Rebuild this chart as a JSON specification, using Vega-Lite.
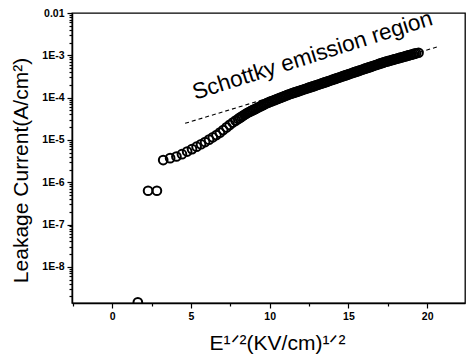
{
  "$schema": "https://vega.github.io/schema/vega-lite/v6.json",
  "autosize": "none",
  "width": 393,
  "height": 290,
  "padding": {"left": 72, "top": 13, "right": 2, "bottom": 57},
  "background": "white",
  "config": {
    "view": {"stroke": "black", "strokeWidth": 1.3},
    "axis": {"domainColor": "black", "domainWidth": 1.5, "tickColor": "black", "tickWidth": 1.2, "labelColor": "black", "titleColor": "black", "grid": false}
  },
  "datasets": {
    "points": [
      {"x": 1.63, "j": 1.45e-9},
      {"x": 2.28, "j": 6.3e-7},
      {"x": 2.84, "j": 6.3e-7},
      {"x": 3.24, "j": 3.35e-6},
      {"x": 3.68, "j": 3.71e-6},
      {"x": 4.08, "j": 4.06e-6},
      {"x": 4.43, "j": 4.61e-6},
      {"x": 4.76, "j": 5.31e-6},
      {"x": 5.07, "j": 6.07e-6},
      {"x": 5.36, "j": 6.93e-6},
      {"x": 5.64, "j": 7.91e-6},
      {"x": 5.90, "j": 8.91e-6},
      {"x": 6.15, "j": 1.016e-5},
      {"x": 6.39, "j": 1.153e-5},
      {"x": 6.62, "j": 1.303e-5},
      {"x": 6.84, "j": 1.486e-5},
      {"x": 7.05, "j": 1.714e-5},
      {"x": 7.26, "j": 1.977e-5},
      {"x": 7.46, "j": 2.265e-5},
      {"x": 7.66, "j": 2.58e-5},
      {"x": 7.84, "j": 2.86e-5},
      {"x": 8.0, "j": 3.13e-5},
      {"x": 8.1, "j": 3.32e-5},
      {"x": 8.2, "j": 3.51e-5},
      {"x": 8.3, "j": 3.72e-5},
      {"x": 8.4, "j": 3.94e-5},
      {"x": 8.5, "j": 4.16e-5},
      {"x": 8.6, "j": 4.38e-5},
      {"x": 8.7, "j": 4.57e-5},
      {"x": 8.8, "j": 4.78e-5},
      {"x": 8.9, "j": 4.99e-5},
      {"x": 9.0, "j": 5.20e-5},
      {"x": 9.1, "j": 5.43e-5},
      {"x": 9.2, "j": 5.67e-5},
      {"x": 9.3, "j": 5.92e-5},
      {"x": 9.4, "j": 6.18e-5},
      {"x": 9.5, "j": 6.46e-5},
      {"x": 9.6, "j": 6.74e-5},
      {"x": 9.7, "j": 7.04e-5},
      {"x": 9.8, "j": 7.35e-5},
      {"x": 9.9, "j": 7.62e-5},
      {"x": 10.0, "j": 7.89e-5},
      {"x": 10.1, "j": 8.16e-5},
      {"x": 10.2, "j": 8.43e-5},
      {"x": 10.3, "j": 8.73e-5},
      {"x": 10.4, "j": 9.02e-5},
      {"x": 10.5, "j": 9.33e-5},
      {"x": 10.6, "j": 9.64e-5},
      {"x": 10.7, "j": 9.98e-5},
      {"x": 10.8, "j": 1.032e-4},
      {"x": 10.9, "j": 1.067e-4},
      {"x": 11.0, "j": 1.104e-4},
      {"x": 11.1, "j": 1.141e-4},
      {"x": 11.2, "j": 1.180e-4},
      {"x": 11.3, "j": 1.219e-4},
      {"x": 11.4, "j": 1.256e-4},
      {"x": 11.5, "j": 1.292e-4},
      {"x": 11.6, "j": 1.328e-4},
      {"x": 11.7, "j": 1.367e-4},
      {"x": 11.8, "j": 1.406e-4},
      {"x": 11.9, "j": 1.448e-4},
      {"x": 12.0, "j": 1.490e-4},
      {"x": 12.1, "j": 1.532e-4},
      {"x": 12.2, "j": 1.578e-4},
      {"x": 12.3, "j": 1.622e-4},
      {"x": 12.4, "j": 1.671e-4},
      {"x": 12.5, "j": 1.718e-4},
      {"x": 12.6, "j": 1.766e-4},
      {"x": 12.7, "j": 1.820e-4},
      {"x": 12.8, "j": 1.871e-4},
      {"x": 12.9, "j": 1.928e-4},
      {"x": 13.0, "j": 1.982e-4},
      {"x": 13.1, "j": 2.037e-4},
      {"x": 13.2, "j": 2.099e-4},
      {"x": 13.3, "j": 2.163e-4},
      {"x": 13.4, "j": 2.223e-4},
      {"x": 13.5, "j": 2.291e-4},
      {"x": 13.6, "j": 2.360e-4},
      {"x": 13.7, "j": 2.432e-4},
      {"x": 13.8, "j": 2.500e-4},
      {"x": 13.9, "j": 2.576e-4},
      {"x": 14.0, "j": 2.655e-4},
      {"x": 14.1, "j": 2.729e-4},
      {"x": 14.2, "j": 2.812e-4},
      {"x": 14.3, "j": 2.897e-4},
      {"x": 14.4, "j": 2.979e-4},
      {"x": 14.5, "j": 3.069e-4},
      {"x": 14.6, "j": 3.162e-4},
      {"x": 14.7, "j": 3.258e-4},
      {"x": 14.8, "j": 3.350e-4},
      {"x": 14.9, "j": 3.451e-4},
      {"x": 15.0, "j": 3.556e-4},
      {"x": 15.1, "j": 3.656e-4},
      {"x": 15.2, "j": 3.767e-4},
      {"x": 15.3, "j": 3.882e-4},
      {"x": 15.4, "j": 3.999e-4},
      {"x": 15.5, "j": 4.121e-4},
      {"x": 15.6, "j": 4.236e-4},
      {"x": 15.7, "j": 4.365e-4},
      {"x": 15.8, "j": 4.487e-4},
      {"x": 15.9, "j": 4.624e-4},
      {"x": 16.0, "j": 4.753e-4},
      {"x": 16.1, "j": 4.898e-4},
      {"x": 16.2, "j": 5.035e-4},
      {"x": 16.3, "j": 5.188e-4},
      {"x": 16.4, "j": 5.333e-4},
      {"x": 16.5, "j": 5.495e-4},
      {"x": 16.6, "j": 5.649e-4},
      {"x": 16.7, "j": 5.821e-4},
      {"x": 16.8, "j": 5.984e-4},
      {"x": 16.9, "j": 6.166e-4},
      {"x": 17.0, "j": 6.339e-4},
      {"x": 17.1, "j": 6.531e-4},
      {"x": 17.2, "j": 6.714e-4},
      {"x": 17.3, "j": 6.918e-4},
      {"x": 17.4, "j": 7.079e-4},
      {"x": 17.5, "j": 7.261e-4},
      {"x": 17.6, "j": 7.430e-4},
      {"x": 17.7, "j": 7.621e-4},
      {"x": 17.8, "j": 7.798e-4},
      {"x": 17.9, "j": 7.980e-4},
      {"x": 18.0, "j": 8.185e-4},
      {"x": 18.1, "j": 8.375e-4},
      {"x": 18.2, "j": 8.590e-4},
      {"x": 18.3, "j": 8.790e-4},
      {"x": 18.4, "j": 8.995e-4},
      {"x": 18.5, "j": 9.226e-4},
      {"x": 18.6, "j": 9.441e-4},
      {"x": 18.7, "j": 9.683e-4},
      {"x": 18.8, "j": 9.908e-4},
      {"x": 18.9, "j": 1.016e-3},
      {"x": 19.0, "j": 1.040e-3},
      {"x": 19.1, "j": 1.064e-3},
      {"x": 19.2, "j": 1.091e-3},
      {"x": 19.3, "j": 1.117e-3},
      {"x": 19.45, "j": 1.15e-3}
    ],
    "fit": [
      {"x": 4.63, "j": 2.47e-5},
      {"x": 20.69, "j": 1.6e-3}
    ],
    "label": [
      {"x": 12.85, "j": 6.9e-4, "text": "Schottky emission region"}
    ]
  },
  "layer": [
    {
      "data": {"name": "fit"},
      "mark": {"type": "line", "color": "black", "strokeWidth": 1.1, "strokeDash": [4, 3]},
      "encoding": {
        "x": {
          "field": "x", "type": "quantitative",
          "scale": {"domain": [-2.55, 22.4], "nice": false, "zero": false},
          "axis": {
            "values": [-2.5, 0, 2.5, 5, 7.5, 10, 12.5, 15, 17.5, 20],
            "labelExpr": "datum.value % 5 == 0 ? datum.label : ''",
            "tickSize": {"condition": {"test": "datum.value % 5 == 0", "value": 5}, "value": 3},
            "labelFont": "Liberation Sans", "labelFontSize": 10.5, "labelFontWeight": "bold", "labelPadding": 3,
            "labelOverlap": false, "labelBound": false, "labelFlush": false,
            "title": "E¹ᐟ²(KV/cm)¹ᐟ²",
            "titleFont": "Liberation Sans", "titleFontSize": 21, "titleFontWeight": "normal",
            "titleX": 205, "titleY": 46, "titleAlign": "center", "titleBaseline": "alphabetic"
          }
        },
        "y": {
          "field": "j", "type": "quantitative",
          "scale": {"type": "log", "domain": [1.4e-9, 0.01], "nice": false},
          "axis": {
            "values": [2e-9,3e-9,4e-9,5e-9,6e-9,7e-9,8e-9,9e-9,1e-8,2e-8,3e-8,4e-8,5e-8,6e-8,7e-8,8e-8,9e-8,1e-7,2e-7,3e-7,4e-7,5e-7,6e-7,7e-7,8e-7,9e-7,1e-6,2e-6,3e-6,4e-6,5e-6,6e-6,7e-6,8e-6,9e-6,1e-5,2e-5,3e-5,4e-5,5e-5,6e-5,7e-5,8e-5,9e-5,1e-4,2e-4,3e-4,4e-4,5e-4,6e-4,7e-4,8e-4,9e-4,1e-3,2e-3,3e-3,4e-3,5e-3,6e-3,7e-3,8e-3,9e-3,1e-2],
            "labelExpr": "abs(log(datum.value)/LN10 - round(log(datum.value)/LN10)) < 0.001 ? (datum.value > 0.005 ? '0.01' : '1E' + round(log(datum.value)/LN10)) : ''",
            "tickSize": {"condition": {"test": "abs(log(datum.value)/LN10 - round(log(datum.value)/LN10)) < 0.001", "value": 5}, "value": 3},
            "labelFont": "Liberation Sans", "labelFontSize": 10.5, "labelFontWeight": "bold", "labelPadding": 3,
            "labelOverlap": false, "labelBound": false, "labelFlush": false,
            "title": "Leakage Current(A/cm²)",
            "titleFont": "Liberation Sans", "titleFontSize": 21, "titleFontWeight": "normal",
            "titleAngle": -90, "titleX": -45, "titleY": 157, "titleAlign": "center", "titleBaseline": "alphabetic"
          }
        }
      }
    },
    {
      "data": {"name": "points"},
      "mark": {"type": "point", "shape": "circle", "filled": false, "stroke": "black", "strokeWidth": 2, "size": 76, "opacity": 1, "clip": true},
      "encoding": {
        "x": {"field": "x", "type": "quantitative"},
        "y": {"field": "j", "type": "quantitative"}
      }
    },
    {
      "data": {"name": "label"},
      "mark": {"type": "text", "font": "Liberation Sans", "fontSize": 22.5, "angle": -17.5, "align": "center", "baseline": "alphabetic", "color": "black"},
      "encoding": {
        "x": {"field": "x", "type": "quantitative"},
        "y": {"field": "j", "type": "quantitative"},
        "text": {"field": "text", "type": "nominal"}
      }
    }
  ]
}
